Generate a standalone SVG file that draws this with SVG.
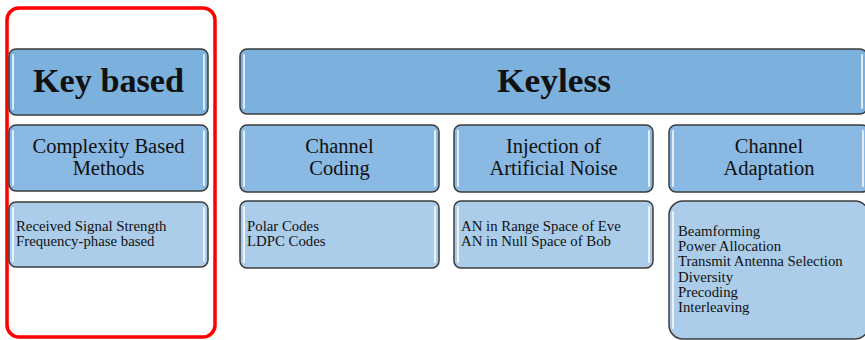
<svg xmlns="http://www.w3.org/2000/svg" width="865" height="340" viewBox="0 0 865 340">
<defs>
<style>
.box{stroke:#3c3c3c;stroke-width:1.5}
.h{fill:#7cb0dd}
.m{fill:#8ab9e3}
.l{fill:#abcdea}
.hl{stroke:#ffffff;stroke-width:2;stroke-opacity:0.75;stroke-linecap:round}
text{font-family:"Liberation Serif","Times New Roman",serif;fill:#111}
.t1{font-size:33px;font-weight:bold;text-anchor:middle}
.t2{font-size:20.5px;text-anchor:middle}
.t3{font-size:14.8px}
</style>
</defs>
<rect width="865" height="340" fill="#ffffff"/>
<g id="keybased-frame">
<rect x="7" y="8" width="208" height="329" rx="12" fill="none" stroke="#ff0000" stroke-width="3.5"/>
</g>
<g id="key-based">
<rect class="box h" x="9" y="49" width="199" height="66" rx="7"/>
<line class="hl" x1="13" y1="55" x2="13" y2="109"/><line class="hl" x1="204" y1="55" x2="204" y2="109"/>
<text class="t1" x="108.5" y="92" textLength="151" lengthAdjust="spacingAndGlyphs">Key based</text>
</g>
<g id="complexity">
<rect class="box m" x="9" y="125" width="199" height="66" rx="7"/>
<line class="hl" x1="13" y1="131" x2="13" y2="185"/><line class="hl" x1="204" y1="131" x2="204" y2="185"/>
<text class="t2" x="108.5" y="153">Complexity Based</text>
<text class="t2" x="108.5" y="175">Methods</text>
</g>
<g id="complexity-list">
<rect class="box l" x="9" y="202" width="199" height="65" rx="7"/>
<line class="hl" x1="13" y1="208" x2="13" y2="261"/><line class="hl" x1="204" y1="208" x2="204" y2="261"/>
<text class="t3" x="16" y="231">Received Signal Strength</text>
<text class="t3" x="16" y="246">Frequency-phase based</text>
</g>
<g id="keyless">
<rect class="box h" x="240" y="49" width="627" height="65" rx="7"/>
<line class="hl" x1="244" y1="55" x2="244" y2="108"/><line class="hl" x1="862" y1="55" x2="862" y2="108"/>
<text class="t1" x="554" y="92" textLength="114" lengthAdjust="spacingAndGlyphs">Keyless</text>
</g>
<g id="channel-coding">
<rect class="box m" x="240" y="125" width="199" height="67" rx="7"/>
<line class="hl" x1="244" y1="131" x2="244" y2="186"/><line class="hl" x1="435" y1="131" x2="435" y2="186"/>
<text class="t2" x="339.5" y="153">Channel</text>
<text class="t2" x="339.5" y="175">Coding</text>
</g>
<g id="injection">
<rect class="box m" x="454" y="125" width="199" height="67" rx="7"/>
<line class="hl" x1="458" y1="131" x2="458" y2="186"/><line class="hl" x1="649" y1="131" x2="649" y2="186"/>
<text class="t2" x="553.5" y="153">Injection of</text>
<text class="t2" x="553.5" y="175">Artificial Noise</text>
</g>
<g id="channel-adaptation">
<rect class="box m" x="669" y="125" width="200" height="67" rx="7"/>
<line class="hl" x1="673" y1="131" x2="673" y2="186"/><line class="hl" x1="863" y1="131" x2="863" y2="186"/>
<text class="t2" x="769" y="153">Channel</text>
<text class="t2" x="769" y="175">Adaptation</text>
</g>
<g id="coding-list">
<rect class="box l" x="240" y="201" width="199" height="67" rx="7"/>
<line class="hl" x1="244" y1="207" x2="244" y2="262"/><line class="hl" x1="435" y1="207" x2="435" y2="262"/>
<text class="t3" x="247" y="231">Polar Codes</text>
<text class="t3" x="247" y="246">LDPC Codes</text>
</g>
<g id="noise-list">
<rect class="box l" x="454" y="201" width="199" height="67" rx="7"/>
<line class="hl" x1="458" y1="207" x2="458" y2="262"/><line class="hl" x1="649" y1="207" x2="649" y2="262"/>
<text class="t3" x="461" y="231">AN in Range Space of Eve</text>
<text class="t3" x="461" y="246">AN in Null Space of Bob</text>
</g>
<g id="adaptation-list">
<rect class="box l" x="669" y="201" width="200" height="138" rx="14"/>
<line class="hl" x1="673" y1="212" x2="673" y2="328"/>
<text class="t3" x="678" y="236">Beamforming</text>
<text class="t3" x="678" y="251">Power Allocation</text>
<text class="t3" x="678" y="266">Transmit Antenna Selection</text>
<text class="t3" x="678" y="282">Diversity</text>
<text class="t3" x="678" y="297">Precoding</text>
<text class="t3" x="678" y="312">Interleaving</text>
</g>
<g id="connectors"></g>
</svg>
